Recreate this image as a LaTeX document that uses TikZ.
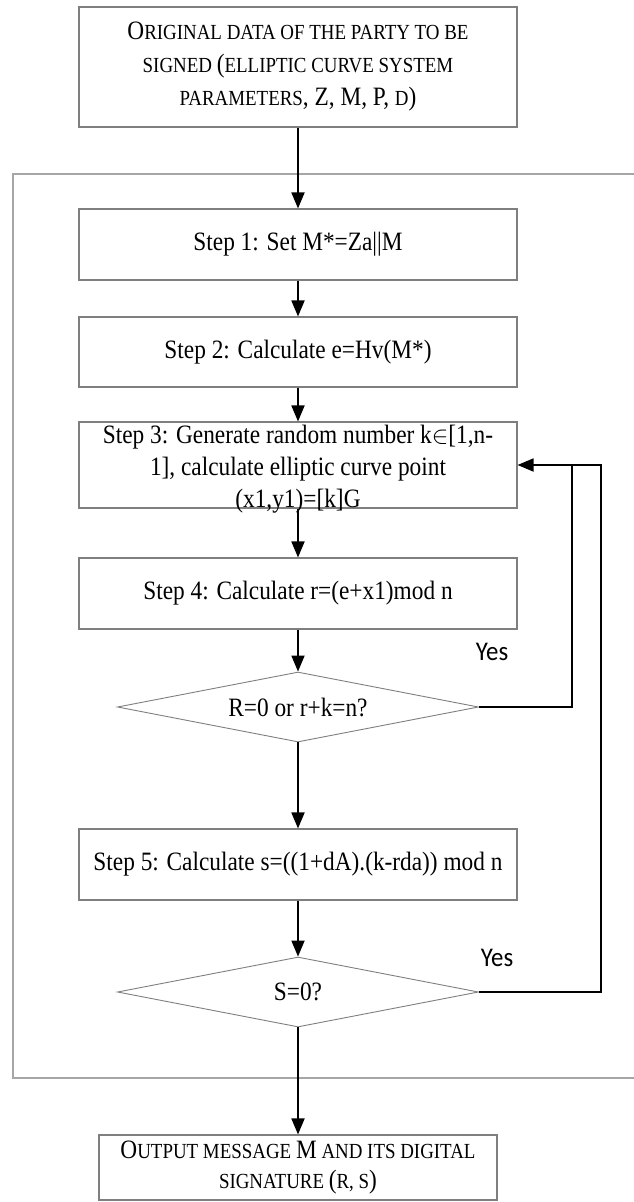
\documentclass[tikz,border=0pt]{standalone}
\usepackage{fontspec}
\setmainfont{Liberation Serif}[FakeStretch=0.88]
\newfontfamily\yesfont{Carlito}[FakeStretch=0.92]
\usetikzlibrary{shapes.geometric,arrows.meta}
\definecolor{boxgray}{HTML}{7F7F7F}
\definecolor{framegray}{HTML}{A6A6A6}
\newcommand{\sm}[1]{{\fontsize{21.5}{33}\selectfont #1}}
\begin{document}
\begin{tikzpicture}[x=1pt,y=-1pt,
  every node/.style={font=\fontsize{26.5}{32}\selectfont},
  box/.style={draw=boxgray, line width=1.1pt, minimum width=438pt, inner sep=0pt, align=center},
  txt/.style={inner sep=0pt, align=center},
  dia/.style={diamond, aspect=5.16, draw=boxgray, line width=0.9pt, minimum width=361pt, minimum height=70pt, inner sep=0pt},
  arr/.style={draw=black, line width=1.8pt, -{Triangle[length=16pt,width=13pt]}},
  fb/.style={draw=black, line width=1.8pt},
  yes/.style={font=\yesfont\fontsize{27}{30}\selectfont, inner sep=0pt}
]
\useasboundingbox (0,0) rectangle (633,1202);
% outer frame
\coordinate (fa) at (640,174);
\coordinate (fb) at (13,174);
\coordinate (fc) at (13,1078);
\coordinate (fd) at (640,1078);
\draw[framegray, line width=1.5pt] (fa) -- (fb) -- (fc) -- (fd);

\node[box, minimum height=120pt, font=\fontsize{26.5}{33}\selectfont] (top) at (298,67)
  {O\sm{RIGINAL DATA OF THE PARTY TO BE}\\ \sm{SIGNED }(\sm{ELLIPTIC CURVE SYSTEM}\\ \sm{PARAMETERS}, Z, M, P, \sm{D})};
\node[box, minimum height=71pt] (s1) at (298,244.5) {Step 1: Set M*=Za||M};
\node[box, minimum height=70pt] (s2) at (298,352) {Step 2: Calculate e=Hv(M*)};
\node[box, minimum height=86pt] (s3) at (298,465) {};
\node[txt] (s3t) at (298,469) {Step 3: Generate random number k$\in$[1,n-\\ 1], calculate elliptic curve point\\ (x1,y1)=[k]G};
\node[box, minimum height=71pt] (s4) at (298,593.5) {Step 4: Calculate r=(e+x1)mod n};
\node[dia] (d1) at (298,707) {R=0 or r+k=n?};
\node[box, minimum height=71pt] (s5) at (298,864.5) {Step 5: Calculate s=((1+dA).(k-rda)) mod n};
\node[dia] (d2) at (298,992) {S=0?};
\node[box, minimum width=398pt, minimum height=65pt, font=\fontsize{26.5}{30}\selectfont] (out) at (298,1167.5)
  {O\sm{UTPUT MESSAGE }M\sm{ AND ITS DIGITAL}\\ \sm{SIGNATURE }(\sm{R, S})};

\node[yes] (y1) at (492,652) {Yes};
\node[yes] (y2) at (497,958) {Yes};

\draw[arr] (top.south) -- (s1.north);
\draw[arr] (s1.south) -- (s2.north);
\draw[arr] (s2.south) -- (s3.north);
\draw[arr] (s3.south) -- (s4.north);
\draw[arr] (s4.south) -- (d1.north);
\draw[arr] (d1.south) -- (s5.north);
\draw[arr] (s5.south) -- (d2.north);
\draw[arr] (d2.south) -- (out.north);

\coordinate (c1) at (572,465);
\coordinate (c2) at (601,465);
\draw[fb] (d1.east) -| (c1);
\draw[arr] (d2.east) -| (c2) -- (s3.east);
\end{tikzpicture}
\end{document}
